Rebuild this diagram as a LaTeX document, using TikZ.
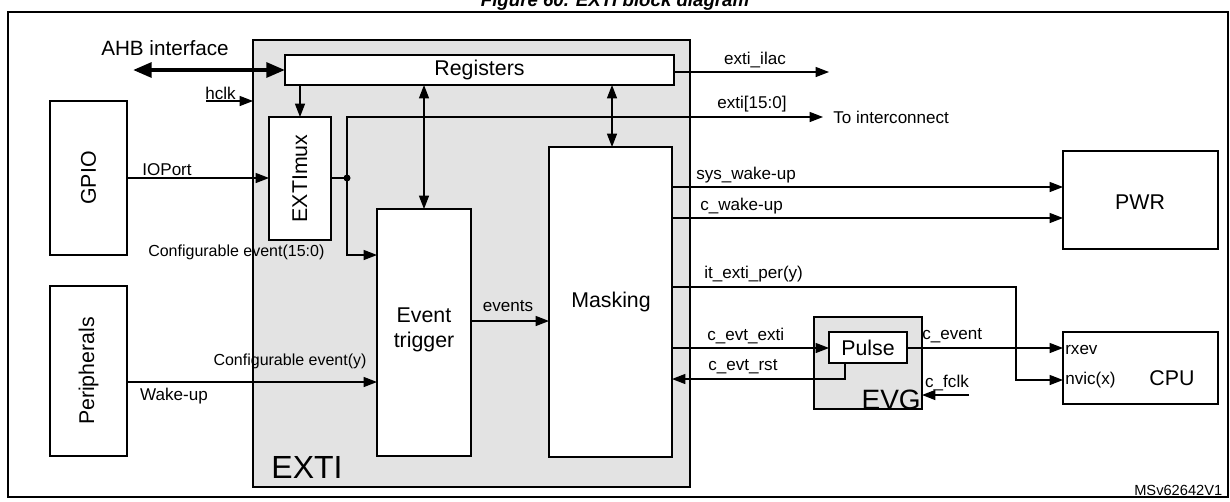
\documentclass[tikz,border=0pt]{standalone}
\usepackage{fontspec}
\setmainfont{Liberation Sans}
\usetikzlibrary{arrows.meta}
\begin{document}
\begin{tikzpicture}[x=0.75pt,y=-0.75pt,
  box/.style={draw,line width=0.9pt,fill=white,inner sep=0pt},
  gbox/.style={draw,line width=0.9pt,fill=black!11,inner sep=0pt},
  ln/.style={line width=0.9pt},
  arr/.style={ln,-{Triangle[length=10pt,width=7.5pt]}},
  darr/.style={ln,{Triangle[length=10pt,width=7.5pt]}-{Triangle[length=10pt,width=7.5pt]}},
  lab/.style={font=\fontsize{12.8pt}{14pt}\selectfont,inner sep=0pt},
  big/.style={font=\fontsize{16pt}{19pt}\selectfont},
  huge/.style={font=\fontsize{24pt}{26pt}\selectfont,inner sep=0pt}]
\useasboundingbox (0,0) rectangle (1230,501);
\node[font=\fontsize{14pt}{16pt}\selectfont\bfseries\itshape,anchor=base] (title) at (615,6) {Figure 60. EXTI block diagram};
\draw[line width=1.2pt] (8,12) rectangle (1228,497);
% EXTI
\draw[gbox] (253,40) rectangle (690,487);
\node[huge] (exti) at (307,467) {EXTI};
\draw[box] (285,55) rectangle (674,85);
\node[big] (reg) at (479.5,70) {Registers};
\draw[box] (269,117) rectangle (331,240);
\node[big,rotate=90] (mux) at (300,178.5) {EXTImux};
\draw[box] (377,209) rectangle (471,456);
\node[big,align=center] (et) at (424,330) {Event\\trigger};
\draw[box] (549,147) rectangle (672,457);
\node[big] (mask) at (611,302) {Masking};
% left
\draw[box] (50,101) rectangle (127,255);
\node[big,rotate=90] (gpio) at (88.5,178) {GPIO};
\draw[box] (50,286) rectangle (127,456);
\node[big,rotate=90] (per) at (88.5,371) {Peripherals};
% right
\draw[box] (1063,151) rectangle (1218,249);
\node[big] (pwr) at (1140,202) {PWR};
\draw[box] (1063,332) rectangle (1218,404);
\node[big] (cpu) at (1172,378) {CPU};
\node[lab,anchor=west] (rxev) at (1065,350) {rxev};
\node[lab,anchor=west] (nvic) at (1065,380) {nvic(x)};
\draw[gbox] (814,317) rectangle (922,409);
\node[font=\fontsize{21pt}{23pt}\selectfont,anchor=south east,inner sep=0pt] (evg) at (921,410) {EVG};
\draw[box] (829,332) rectangle (907,363);
\node[big] (pulse) at (868,347.5) {Pulse};
% AHB
\coordinate (ahbL) at (133,70);
\draw[line width=3pt,{Triangle[length=14pt,width=11pt]}-{Triangle[length=14pt,width=11pt]}] (ahbL) -- (285,70);
\node[font=\fontsize{15.5pt}{17pt}\selectfont] (ahb) at (165,48) {AHB interface};
\coordinate (hclkS) at (206,101);
\draw[arr] (hclkS) -- (253,101);
\node[lab,anchor=south west] (hclk) at (205,100) {hclk};
% connections
\draw[arr] (300,85) -- (300,117);
\draw[darr] (424,85) -- (424,209);
\draw[darr] (612,85) -- (612,147);
\draw[arr] (127,178) -- (269,178);
\node[lab] (ioport) at (167,170) {IOPort};
\fill (347,178) circle (3.5);
\coordinate (dot) at (347,178);
\draw[ln] (331,178) -- (dot);
\coordinate (toint) at (823,117);
\draw[arr] (dot) |- (toint);
\draw[arr] (dot) |- (377,255);
\node[lab,anchor=west,font=\fontsize{12pt}{14pt}\selectfont] (ce1) at (148,252) {Configurable event(15:0)};
\draw[arr] (127,382) -- (377,382);
\node[lab,font=\fontsize{12pt}{14pt}\selectfont] (ce2) at (290,361) {Configurable event(y)};
\node[lab] (wk) at (174,396) {Wake-up};
\draw[arr] (471,321) -- (549,321);
\node[lab] (ev) at (508,306) {events};
\coordinate (ilac) at (829,72);
\draw[arr] (674,72) -- (ilac);
\node[lab] (ilact) at (755,60) {exti\_ilac};
\node[lab] (ex15) at (752,104) {exti[15:0]};
\node[lab,anchor=west] (ti) at (833,117) {To interconnect};
\draw[arr] (672,187) -- (1063,187);
\node[lab,anchor=west] (sw) at (696,175) {sys\_wake-up};
\draw[arr] (672,218) -- (1063,218);
\node[lab,anchor=west] (cw) at (700,206) {c\_wake-up};
\draw[arr] (672,287) -| (1016,380) -- (1063,380);
\node[lab,anchor=west] (it) at (704,274) {it\_exti\_per(y)};
\draw[arr] (672,348) -- (829,348);
\node[lab,anchor=west] (cee) at (707,336) {c\_evt\_exti};
\draw[arr] (845,363) |- (672,379);
\node[lab,anchor=west] (cer) at (708,367) {c\_evt\_rst};
\draw[arr] (907,348) -- (1063,348);
\node[lab,anchor=west] (ce) at (922,336) {c\_event};
\coordinate (fclk) at (969,395);
\draw[arr] (fclk) -- (922,395);
\node[lab] (fc) at (947,383) {c\_fclk};
\node[font=\fontsize{11pt}{13pt}\selectfont,anchor=east] (ms) at (1227,490) {MSv62642V1};
\end{tikzpicture}
\end{document}
